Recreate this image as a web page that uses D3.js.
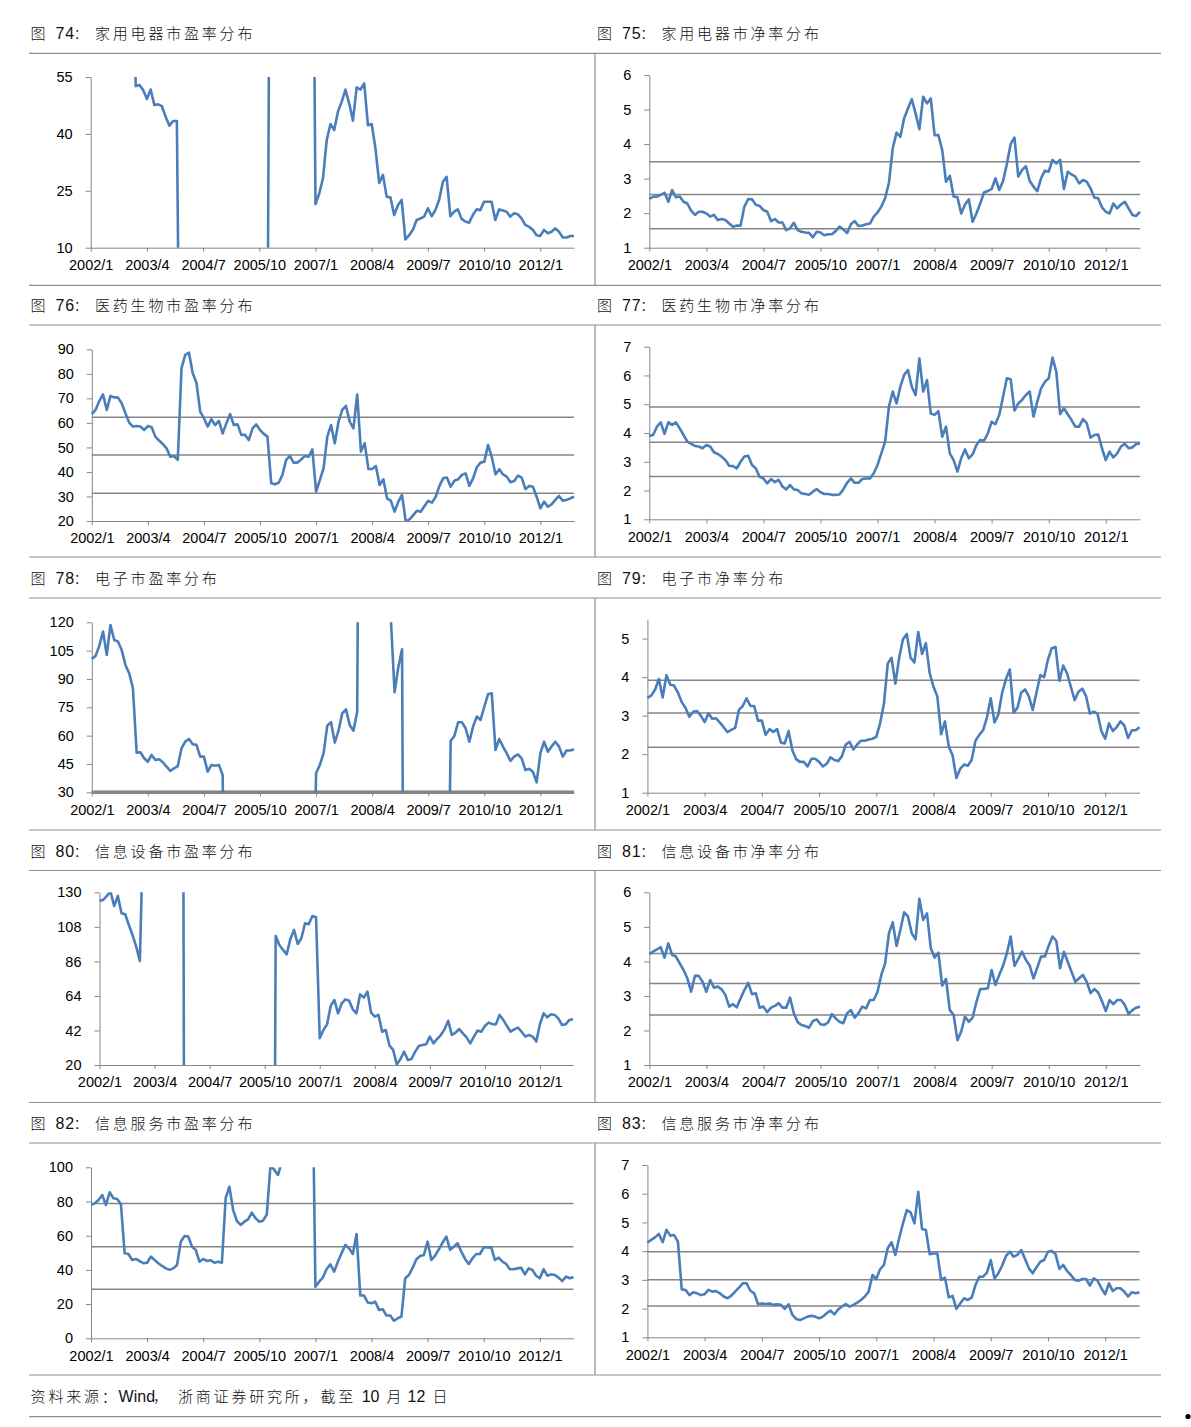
<!DOCTYPE html>
<html><head><meta charset="utf-8">
<script src="https://cdn.jsdelivr.net/npm/d3@7"></script>
<style>
html,body{margin:0;padding:0;background:#fff;}
svg{display:block;}
.tick text{font-family:"Liberation Sans",Arial,sans-serif;font-size:14.5px;fill:#000;}
</style></head><body>
<svg id="c" width="1191" height="1427"></svg>
<script>
// ---------- categories ----------
const months = [];
for (let i = 0; i < 130; i++) { months.push((2002 + Math.floor(i / 12)) + "/" + (i % 12 + 1)); }
const xTickLabels = ["2002/1","2003/4","2004/7","2005/10","2007/1","2008/4","2009/7","2010/10","2012/1"];

// ---------- series values (monthly, 2002/1 - 2012/10) ----------
const pe74 = [95,98,102,110,105,112,108,100,96,90,110,150,
 52.6,52.9,51.6,49.2,51.7,47.6,47.8,47.3,44.5,42.2,43.4,43.4,
 -60,-55,-58,-62,-65,-70,-68,-72,-75,-80,-78,-82,-85,-90,-88,-92,-95,-100,-98,-105,-110,-115,-120,-60,
 150,160,170,180,190,200,210,220,230,240,250,150,
 21.5,24.3,28.3,38.4,42.6,41.0,45.9,48.5,51.7,48.0,
 43.5,52.3,51.7,53.3,42.3,42.6,36.2,27.1,29.2,23.4,
 23.3,18.6,21.2,22.6,12.2,13.3,14.7,17.3,17.7,18.2,
 20.4,18.3,19.9,22.6,27.4,28.7,18.3,19.5,20.1,17.6,
 16.9,16.6,18.6,20.1,19.9,22.1,22.1,22.1,17.3,20.1,
 19.8,19.5,18.2,19.1,18.8,17.7,16.0,15.5,14.7,13.3,
 13.1,14.7,13.8,14.2,15.1,14.2,12.7,12.7,13.1,13.1];
const pb75 = [2.41,2.48,2.48,2.53,2.59,2.33,2.67,2.46,2.48,2.33,
 2.28,2.07,1.95,2.04,2.04,1.99,1.90,1.95,1.80,1.83,
 1.80,1.70,1.61,1.64,1.64,2.19,2.41,2.40,2.24,2.21,
 2.09,2.04,1.77,1.83,1.73,1.73,1.51,1.56,1.72,1.51,
 1.46,1.44,1.43,1.30,1.46,1.44,1.36,1.39,1.39,1.48,
 1.61,1.53,1.42,1.68,1.77,1.63,1.64,1.68,1.70,1.90,
 2.02,2.19,2.43,2.88,3.88,4.33,4.21,4.75,5.03,5.30,
 4.89,4.43,5.37,5.18,5.32,4.26,4.26,3.83,2.91,3.08,
 2.48,2.46,1.99,2.25,2.40,1.75,1.99,2.28,2.60,2.64,
 2.70,3.01,2.67,2.93,3.42,4.00,4.19,3.06,3.25,3.36,
 2.93,2.77,2.64,3.01,3.23,3.20,3.54,3.44,3.54,2.70,
 3.20,3.12,3.06,2.86,2.96,2.91,2.72,2.45,2.43,2.17,
 2.04,1.99,2.28,2.14,2.25,2.33,2.14,1.95,1.92,2.04];
const pe76 = [63.6,65.3,68.9,71.6,65.3,71.0,70.4,70.3,68.0,63.9,
 60.1,58.5,58.7,58.5,57.1,58.7,58.2,54.4,52.8,51.4,
 49.6,46.2,46.5,44.9,82.3,87.7,88.6,80.2,76.4,64.6,
 61.9,58.5,61.5,59.1,60.8,55.7,59.8,63.6,59.1,59.4,
 55.1,55.1,53.0,57.8,59.4,57.1,55.5,54.4,35.4,35.0,
 35.6,38.8,44.9,46.5,43.8,43.8,45.1,46.5,46.2,49.2,
 32.0,36.7,41.5,54.4,59.1,51.7,60.5,65.3,66.9,60.5,
 57.8,71.6,48.3,51.7,41.2,41.2,42.4,34.7,37.0,29.2,
 28.2,23.8,27.9,30.6,19.7,20.7,22.4,24.2,23.8,26.1,
 28.2,27.5,29.9,34.3,37.4,37.7,34.0,36.4,37.0,38.8,
 39.4,34.3,37.4,41.9,43.8,44.2,51.0,46.2,39.0,41.1,
 39.0,38.1,35.8,36.3,38.5,37.7,33.0,34.3,34.0,29.9,
 25.2,27.9,25.8,26.8,28.6,30.2,28.3,28.6,29.2,29.9];
const pb77 = [3.90,3.93,4.22,4.37,3.97,4.37,4.28,4.37,4.16,3.93,
 3.70,3.62,3.55,3.53,3.47,3.58,3.53,3.33,3.27,3.18,
 3.06,2.86,2.85,2.77,3.00,3.18,3.21,2.89,2.77,2.48,
 2.42,2.25,2.40,2.29,2.37,2.14,2.04,2.19,2.04,2.02,
 1.90,1.88,1.85,1.96,2.05,1.94,1.88,1.88,1.85,1.85,
 1.86,2.04,2.27,2.42,2.27,2.27,2.40,2.42,2.42,2.60,
 2.89,3.29,3.70,4.92,5.44,5.03,5.61,6.02,6.19,5.61,
 5.32,6.59,5.44,5.84,4.68,4.63,4.76,3.87,4.22,3.29,
 3.06,2.66,3.12,3.43,3.12,3.26,3.58,3.76,3.73,3.99,
 4.39,4.31,4.63,5.26,5.90,5.87,4.78,5.03,5.15,5.32,
 5.44,4.57,5.09,5.55,5.78,5.90,6.62,6.13,4.66,4.86,
 4.65,4.45,4.22,4.22,4.48,4.34,3.84,3.93,3.95,3.47,
 3.06,3.35,3.15,3.29,3.53,3.62,3.47,3.50,3.62,3.64];
const pe78 = [100.6,102.2,107.5,115.1,102.7,118.6,110.6,109.8,105.3,97.4,
 93.0,85.1,51.0,51.2,48.0,46.2,49.8,47.1,47.5,45.9,
 43.6,41.3,42.7,43.9,53.3,56.8,58.2,55.4,55.1,48.9,
 48.9,40.9,44.5,44.1,44.5,39.2,
 -80,-90,-100,-120,-150,-180,-200,-250,-300,-280,-260,-240,-220,-200,-180,-160,-150,-140,-130,-120,-110,-100,-90,-80,
 40.1,44.5,50.6,65.3,67.1,56.3,62.6,71.8,73.9,65.6,62.6,72.7,
 400,450,500,600,700,800,600,400,122,
 83.0,96.2,105.7,
 -300,-250,-200,-180,-160,-150,-140,-130,-120,-110,-100,-90,
 57.2,59.8,67.1,67.1,63.9,56.8,64.8,70.1,68.3,75.3,
 81.9,82.4,52.4,58.2,54.2,50.6,46.6,48.9,50.1,48.0,
 41.8,42.4,40.9,35.3,50.6,56.8,51.5,54.2,56.8,54.2,
 48.9,52.1,52.1,52.8];
const pb79 = [3.46,3.52,3.67,3.95,3.47,4.05,3.80,3.78,3.60,3.35,
 3.20,2.97,3.10,3.12,3.00,2.83,3.06,2.92,2.93,2.82,
 2.70,2.57,2.63,2.68,3.15,3.25,3.45,3.25,3.25,2.87,
 2.87,2.50,2.65,2.58,2.65,2.30,2.28,2.60,2.10,1.87,
 1.80,1.80,1.68,1.88,1.88,1.80,1.68,1.75,1.92,1.85,
 1.82,1.95,2.25,2.32,2.12,2.25,2.35,2.35,2.38,2.40,
 2.45,2.80,3.30,4.35,4.50,3.83,4.50,4.98,5.12,4.50,
 4.38,5.17,4.60,4.88,4.10,3.75,3.50,2.52,2.85,2.20,
 1.97,1.38,1.62,1.73,1.70,1.85,2.35,2.50,2.62,2.95,
 3.45,2.82,3.03,3.60,3.95,4.20,3.08,3.20,3.60,3.68,
 3.50,3.15,3.60,4.05,4.00,4.45,4.75,4.78,3.90,4.30,
 4.10,3.75,3.40,3.62,3.70,3.50,3.05,3.10,3.05,2.60,
 2.40,2.80,2.60,2.70,2.85,2.75,2.42,2.62,2.62,2.70];
const pe80 = [124.7,125.1,127.7,130.4,121.3,127.7,116.6,116.0,109.2,102.8,95.4,86.3,
 180,250,300,350,400,450,500,600,700,800,1000,
 10,-50,-100,-150,-200,-250,-300,-350,-400,-450,-500,-500,-450,-400,-380,-360,-350,-340,-330,-320,-310,-300,-280,-260,-400,
 102.2,96.4,93.3,90.5,100.3,106.0,97.1,100.7,110.3,109.6,
 114.9,114.1,37.0,42.3,45.9,57.8,61.4,52.9,59.3,61.8,
 61.0,55.5,52.9,65.0,62.9,66.7,53.3,50.8,51.9,41.2,
 42.3,32.3,29.6,20.4,23.8,28.5,23.2,23.8,28.5,32.1,
 32.7,33.2,38.1,33.8,36.6,39.1,42.7,48.2,39.1,40.6,
 42.9,40.2,37.6,33.8,38.1,41.9,41.2,44.8,47.0,46.1,
 45.9,51.9,48.7,44.8,41.2,42.7,43.8,41.2,38.1,39.1,
 38.1,34.9,46.1,52.9,50.4,52.3,51.9,49.7,45.5,45.9,
 48.7,49.1];
const pb81 = [4.21,4.28,4.35,4.41,4.11,4.52,4.19,4.14,3.94,3.75,
 3.51,3.12,3.58,3.58,3.41,3.12,3.46,3.24,3.27,3.19,
 3.03,2.69,2.76,2.67,2.93,3.17,3.38,3.05,3.08,2.66,
 2.69,2.53,2.66,2.71,2.79,2.66,2.66,2.95,2.50,2.24,
 2.16,2.13,2.08,2.27,2.32,2.18,2.16,2.23,2.47,2.35,
 2.25,2.21,2.50,2.59,2.37,2.50,2.69,2.64,2.88,2.88,
 3.12,3.61,3.94,4.81,5.13,4.45,4.91,5.42,5.30,4.81,
 4.64,5.81,5.20,5.39,4.38,4.11,4.25,3.30,3.49,2.59,
 2.45,1.72,1.97,2.40,2.25,2.37,2.83,3.20,3.20,3.22,
 3.75,3.32,3.61,3.87,4.23,4.72,3.87,4.07,4.28,4.04,
 3.88,3.51,3.82,4.14,4.14,4.45,4.72,4.59,3.80,4.28,
 3.99,3.70,3.41,3.51,3.61,3.41,3.08,3.20,3.10,2.85,
 2.56,2.88,2.76,2.88,2.88,2.74,2.48,2.59,2.66,2.69];
const pe82 = [78.0,78.9,80.9,83.8,78.0,85.4,81.9,81.5,78.4,49.7,
 49.3,45.8,46.4,45.2,43.9,44.2,47.8,45.8,43.9,42.3,
 40.9,40.0,40.9,42.9,56.5,59.8,59.5,53.6,51.7,44.8,
 46.4,45.2,45.6,44.2,44.8,44.2,81.9,88.7,75.0,68.6,
 66.3,68.2,69.6,73.5,70.2,68.2,68.8,72.5,
 101.5,98.5,95.5,103,120,140,160,180,200,220,210,190,
 30.2,33.1,35.5,40.5,43.3,39.0,44.8,49.7,54.6,52.6,
 49.3,61.0,25.0,25.0,20.9,20.5,21.4,16.6,17.0,13.3,
 13.3,10.3,11.7,12.7,35.1,37.0,41.3,46.2,48.1,48.7,
 56.5,45.8,48.3,52.0,55.9,59.5,51.7,53.6,55.6,50.7,
 46.4,43.5,46.8,49.3,49.3,53.2,53.2,53.2,45.8,47.2,
 44.8,43.5,40.4,40.4,40.9,41.3,37.4,40.9,40.0,36.6,
 35.1,40.4,36.6,37.4,37.0,35.5,33.5,36.1,35.1,35.9];
const pb83 = [4.30,4.39,4.48,4.60,4.31,4.74,4.54,4.56,4.33,2.67,
 2.65,2.47,2.57,2.53,2.47,2.50,2.65,2.59,2.61,2.53,
 2.42,2.36,2.45,2.59,2.73,2.88,2.88,2.62,2.53,2.16,
 2.18,2.16,2.18,2.13,2.15,2.13,1.99,2.15,1.78,1.64,
 1.60,1.66,1.72,1.75,1.72,1.66,1.72,1.84,1.93,1.80,
 1.97,2.07,2.16,2.07,2.13,2.21,2.30,2.42,2.59,3.17,
 3.03,3.37,3.52,4.10,4.31,3.87,4.45,4.97,5.43,5.35,
 4.97,6.07,4.77,4.74,3.89,3.92,3.92,3.00,3.08,2.39,
 2.44,1.99,2.18,2.36,2.30,2.38,2.82,3.11,3.11,3.25,
 3.69,3.05,3.23,3.50,3.83,3.98,3.81,3.87,4.04,3.73,
 3.40,3.23,3.44,3.63,3.69,3.98,4.01,3.89,3.38,3.52,
 3.31,3.17,3.00,2.97,3.03,3.03,2.80,3.05,2.97,2.71,
 2.50,2.88,2.61,2.71,2.71,2.59,2.42,2.57,2.53,2.57];

// ---------- reference lines (mean / ±1 sd) ----------
const ref74 = [];
const ref75 = [3.49, 2.54, 1.55];
const ref76 = [62.3, 46.9, 31.3];
const ref77 = [4.90, 3.68, 2.49];
const ref78 = [28.5, 12.0, -4.5];
const ref79 = [3.92, 3.07, 2.18];
const ref80 = [];
const ref81 = [4.23, 3.36, 2.45];
const ref82 = [78.9, 53.6, 28.7];
const ref83 = [3.98, 3.00, 2.09];

// ---------- y-axis ticks ----------
const ticks74 = [10, 25, 40, 55];
const ticks75 = [1, 2, 3, 4, 5, 6];
const ticks76 = [20, 30, 40, 50, 60, 70, 80, 90];
const ticks77 = [1, 2, 3, 4, 5, 6, 7];
const ticks78 = [30, 45, 60, 75, 90, 105, 120];
const ticks79 = [1, 2, 3, 4, 5];
const ticks80 = [20, 42, 64, 86, 108, 130];
const ticks81 = [1, 2, 3, 4, 5, 6];
const ticks82 = [0, 20, 40, 60, 80, 100];
const ticks83 = [1, 2, 3, 4, 5, 6, 7];

// ---------- titles ----------
const figNums = ["74","75","76","77","78","79","80","81","82","83"];
const figNames = ["家用电器市盈率分布","家用电器市净率分布","医药生物市盈率分布","医药生物市净率分布",
  "电子市盈率分布","电子市净率分布","信息设备市盈率分布","信息设备市净率分布",
  "信息服务市盈率分布","信息服务市净率分布"];

// ---------- assemble (data) ----------
const series = [pe74, pb75, pe76, pb77, pe78, pb79, pe80, pb81, pe82, pb83];
const refs = [ref74, ref75, ref76, ref77, ref78, ref79, ref80, ref81, ref82, ref83];
const ticks = [ticks74, ticks75, ticks76, ticks77, ticks78, ticks79, ticks80, ticks81, ticks82, ticks83];
const domains = [[10,55],[1,6],[20,90],[1,7],[30,120],[1,5.5],[20,130],[1,6],[0,100],[1,7]];

// ---------- layout (positions only) ----------
const rowTops = [53.3, 325, 598, 870.5, 1143];
const rowH = 232;
const frameL = 29, frameR = 1161, colSplit = 595, colOff = 566.5;
const plotBox = [
  {top:77, bottom:247.7, x0:90.7, x1:574},
  {top:75, bottom:247.7, x0:649.3, x1:1140},
  {top:349.3, bottom:521, x0:91.8, x1:574},
  {top:346.7, bottom:519.3, x0:649.3, x1:1140},
  {top:622.3, bottom:792.3, x0:91.8, x1:574},
  {top:619.3, bottom:792.7, x0:647.4, x1:1139.5},
  {top:892.3, bottom:1065, x0:99.5, x1:573},
  {top:892.3, bottom:1065, x0:649.3, x1:1140},
  {top:1167.3, bottom:1338.3, x0:91, x1:573.5},
  {top:1165, bottom:1337.3, x0:647.4, x1:1139.5}
];

const svg = d3.select("#c");
const frameColor = "#8f8f8f";
const axisColor = "#868686";
const blue = "#4a7ebb";

// frames
rowTops.forEach(t => {
  svg.append("line").attr("x1", frameL).attr("x2", frameR).attr("y1", t).attr("y2", t)
    .attr("stroke", frameColor).attr("stroke-width", 1.2);
  svg.append("line").attr("x1", frameL).attr("x2", frameR).attr("y1", t + rowH).attr("y2", t + rowH)
    .attr("stroke", frameColor).attr("stroke-width", 1.2);
  svg.append("line").attr("x1", colSplit).attr("x2", colSplit).attr("y1", t).attr("y2", t + rowH)
    .attr("stroke", frameColor).attr("stroke-width", 1.2);
});
svg.append("line").attr("x1", frameL).attr("x2", frameR).attr("y1", 1416.7).attr("y2", 1416.7)
  .attr("stroke", frameColor).attr("stroke-width", 1.2);
svg.append("circle").attr("cx", 1188).attr("cy", 1416.5).attr("r", 2.6).attr("fill", "#000");

// footer
const foot = svg.append("text").attr("y", 1402).attr("fill", "#111")
  .style("font-family", "'Noto Sans CJK SC', sans-serif").style("font-size", "15px").style("font-weight", 300);
const footParts = [
  {t:"资料来源：", x:30.6, f:"cjk"},
  {t:"Wind", x:118.6, f:"lat"},
  {t:"，", x:153, f:"cjk"},
  {t:"浙商证券研究所，截至", x:178, f:"cjk"},
  {t:"10", x:361.7, f:"lat"},
  {t:"月", x:386.5, f:"cjk"},
  {t:"12", x:407.6, f:"lat"},
  {t:"日", x:432.5, f:"cjk"}
];
footParts.forEach(p => {
  const ts = foot.append("tspan").attr("x", p.x).text(p.t);
  if (p.f === "lat") ts.style("font-family", "'Liberation Sans', Arial, sans-serif").style("font-size", "16px").style("font-weight", 400);
  else ts.style("letter-spacing", "2.8px");
});

// panels
series.forEach((vals, k) => {
  const box = plotBox[k];
  const col = k % 2, row = Math.floor(k / 2);
  const tTop = rowTops[row];
  const ox = col === 0 ? 0 : colOff;

  // title
  const title = svg.append("text").attr("y", tTop - 14).attr("fill", "#111");
  title.append("tspan").attr("x", 30.6 + ox).text("图")
    .style("font-family", "'Noto Sans CJK SC', sans-serif").style("font-size", "15px").style("font-weight", 300);
  title.append("tspan").attr("x", 55.5 + ox).text(figNums[k] + ":")
    .style("font-family", "'Liberation Sans', Arial, sans-serif").style("font-size", "16px").style("letter-spacing", "0.8px");
  title.append("tspan").attr("x", 95 + ox).text(figNames[k])
    .style("font-family", "'Noto Sans CJK SC', sans-serif").style("font-size", "15px").style("font-weight", 300)
    .style("letter-spacing", "2.8px");

  const dom = domains[k];
  const x = d3.scalePoint().domain(months).range([box.x0, box.x1]);
  const y = d3.scaleLinear().domain(dom).range([box.bottom, box.top]);
  const g = svg.append("g");

  const cid = "clip" + figNums[k];
  svg.append("clipPath").attr("id", cid).append("rect")
    .attr("x", box.x0 - 6).attr("y", box.top).attr("width", box.x1 - box.x0 + 12).attr("height", box.bottom - box.top);

  // reference lines
  refs[k].forEach(v => {
    const inside = v >= dom[0] && v <= dom[1];
    const yy = y(Math.max(dom[0], Math.min(dom[1], v)));
    g.append("line").attr("x1", box.x0).attr("x2", box.x1).attr("y1", yy).attr("y2", yy)
      .attr("stroke", "#858585").attr("stroke-width", inside ? 1.5 : 3);
  });

  // axes
  const ya = d3.axisLeft(y).tickValues(ticks[k]).tickSizeInner(5).tickSizeOuter(0).tickPadding(13).tickFormat(d => d);
  const gy = g.append("g").attr("transform", `translate(${box.x0},0)`).call(ya);
  const xa = d3.axisBottom(x).tickValues(xTickLabels).tickSizeInner(4).tickSizeOuter(0).tickPadding(8);
  const gx = g.append("g").attr("transform", `translate(0,${box.bottom})`).call(xa);
  [gy, gx].forEach(a => {
    a.select(".domain").attr("stroke", axisColor).attr("stroke-width", 1);
    a.selectAll(".tick line").attr("stroke", axisColor).attr("stroke-width", 1);
    a.attr("font-family", null).attr("font-size", null);
  });

  // series line
  const line = d3.line().x((d, i) => x(months[i])).y(d => y(d));
  g.append("path").datum(vals).attr("clip-path", `url(#${cid})`).attr("d", line)
    .attr("fill", "none").attr("stroke", blue).attr("stroke-width", 2.6)
    .attr("stroke-linejoin", "round").attr("stroke-linecap", "butt");
});
</script>
</body></html>
